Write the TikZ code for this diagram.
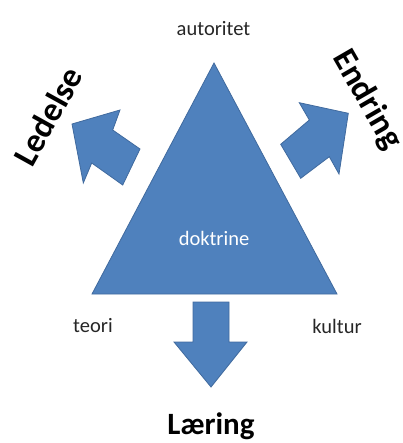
\documentclass[tikz,border=0pt]{standalone}
\usepackage{fontspec}
\setmainfont{Carlito}

\definecolor{shapefill}{RGB}{79,129,189}
\definecolor{shapeline}{RGB}{64,106,158}
\definecolor{labelgray}{RGB}{38,38,38}

\tikzset{
	blueshape/.style={fill=shapefill, draw=shapeline, line width=0.8pt, line join=miter},
	cornerlabel/.style={font=\fontsize{20.5}{24}\selectfont, text=labelgray, inner sep=0pt},
	bigword/.style={font=\fontsize{34}{40}\selectfont\bfseries, text=black, inner sep=0pt}
}

\begin{document}
\begin{tikzpicture}[x=1pt, y=-1pt]

	\useasboundingbox (0, 0) rectangle (402, 443);

	% triangle
	\coordinate (Top) at (214, 63);
	\coordinate (Left) at (92, 294);
	\coordinate (Right) at (337, 294);

	\filldraw[blueshape] (Top) -- (Right) -- (Left) -- cycle;

	\node[cornerlabel, text=white] (doktrine) at (214, 238) {doktrine};
	\node[cornerlabel] (autoritet) at (213.5, 29) {autoritet};
	\node[cornerlabel] (teori) at (93, 326) {teori};
	\node[cornerlabel] (kultur) at (337, 326) {kultur};

	% arrow down
	\filldraw[blueshape] (193, 302) -- (229, 302) -- (229, 342) -- (247, 342)
		-- (211, 387) -- (174, 342) -- (193, 342) -- cycle;
	\node[bigword, font=\fontsize{31}{36}\selectfont\bfseries] (laering) at (211, 426) {Læring};

	% arrow up left
	\filldraw[blueshape] (72, 124) -- (120, 110) -- (112.7, 130) -- (140, 149)
		-- (122.7, 185) -- (91.7, 163) -- (83.3, 183) -- cycle;
	\node[bigword, rotate=61] (ledelse) at (48, 116) {Ledelse};

	% arrow up right
	\filldraw[blueshape] (348.3, 113.3) -- (299.3, 102.7) -- (309.3, 120) -- (280.7, 144.3)
		-- (300.7, 178.3) -- (329.3, 156.7) -- (339, 174) -- cycle;
	\node[bigword, rotate=-60] (endring) at (367, 100) {Endring};

\end{tikzpicture}
\end{document}
